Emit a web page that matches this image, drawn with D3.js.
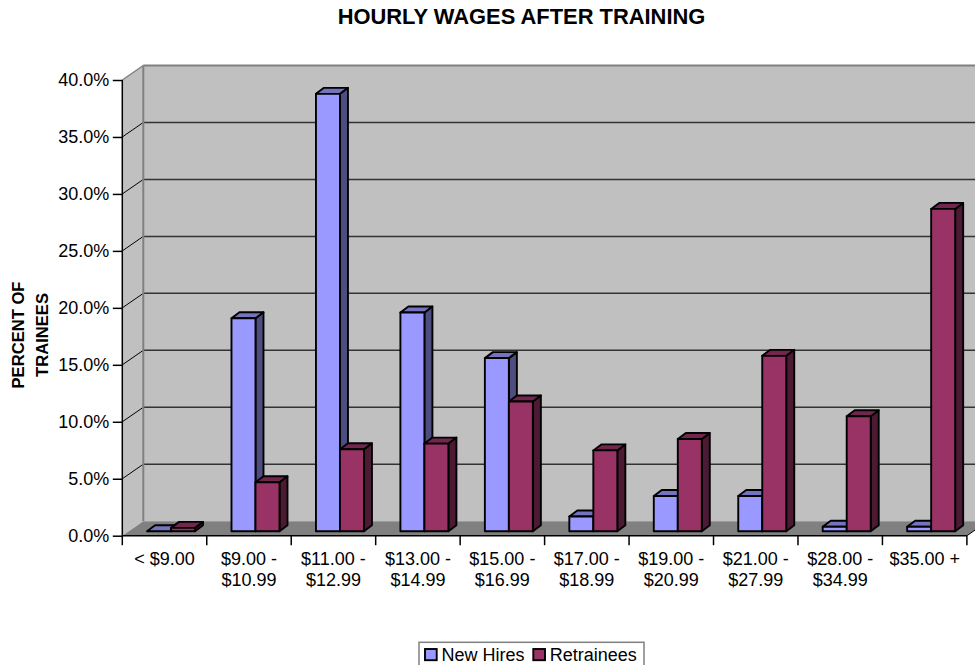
<!DOCTYPE html>
<html>
<head>
<meta charset="utf-8">
<script src="https://d3js.org/d3.v7.min.js"></script>
<style>
  html, body { margin: 0; padding: 0; background: #fff; }
  svg { display: block; }
  text { font-family: "Liberation Sans", Arial, sans-serif; fill: #000; }
</style>
</head>
<body>
<div id="chart"></div>
<script>
//// data
const categories = ["< $9.00", "$9.00 -|$10.99", "$11.00 -|$12.99", "$13.00 -|$14.99", "$15.00 -|$16.99",
  "$17.00 -|$18.99", "$19.00 -|$20.99", "$21.00 -|$27.99", "$28.00 -|$34.99", "$35.00 +"];
const newHires = [0.0, 18.7, 38.4, 19.2, 15.2, 1.3, 3.1, 3.1, 0.4, 0.4];
const retrainees = [0.3, 4.3, 7.2, 7.7, 11.4, 7.1, 8.1, 15.4, 10.1, 28.3];
const seriesNames = ["New Hires", "Retrainees"];
const yTicks = [0, 5, 10, 15, 20, 25, 30, 35, 40];

//// colours: front, top, side
const colors = [
  {front: "#9999ff", top: "#7373bf", side: "#4d4d80"},
  {front: "#993366", top: "#73264d", side: "#4d1a33"}
];

const width = 975, height = 665;
const wallDx = 21, wallDy = -14.5;    // depth of the whole box
const barOffX = 6.5, barOffY = -4.4;  // where bars sit inside the box
const barDx = 8, barDy = -6;          // depth of a bar

const svg = d3.select("#chart").append("svg")
  .attr("width", width)
  .attr("height", height);

const xScale = d3.scaleBand()
  .domain(d3.range(categories.length))
  .range([122.3, 966.9]);

const yScale = d3.scaleLinear()
  .domain([0, 40])
  .range([535.7, 80]);

const x0 = xScale.range()[0], x1 = xScale.range()[1];
const y0 = yScale(0), yTop = yScale(40);
const pts = a => a.map(p => p.join(",")).join(" ");

//// walls and floor
svg.append("polygon")
  .attr("points", pts([[x0 + wallDx, yTop + wallDy], [x1 + wallDx, yTop + wallDy], [x1 + wallDx, y0 + wallDy], [x0 + wallDx, y0 + wallDy]]))
  .attr("fill", "#c0c0c0");
svg.append("polygon")
  .attr("points", pts([[x0, yTop], [x0 + wallDx, yTop + wallDy], [x0 + wallDx, y0 + wallDy], [x0, y0]]))
  .attr("fill", "#c0c0c0");
svg.append("polygon")
  .attr("points", pts([[x0, y0], [x0 + wallDx, y0 + wallDy], [x1 + wallDx, y0 + wallDy], [x1, y0]]))
  .attr("fill", "#808080");

//// grid
yTicks.slice(1).forEach(t => {
  const y = yScale(t);
  const top = t === 40;
  svg.append("line")
    .attr("x1", x0 + wallDx).attr("x2", x1 + wallDx)
    .attr("y1", y + wallDy).attr("y2", y + wallDy)
    .attr("stroke", top ? "#808080" : "#333")
    .attr("stroke-width", top ? 2 : 1.5);
  svg.append("line")
    .attr("x1", x0).attr("x2", x0 + wallDx)
    .attr("y1", y).attr("y2", y + wallDy)
    .attr("stroke", top ? "#808080" : "#000")
    .attr("stroke-width", top ? 1.5 : 1);
});
svg.append("line")
  .attr("x1", x0 + wallDx).attr("x2", x0 + wallDx)
  .attr("y1", yTop + wallDy).attr("y2", y0 + wallDy)
  .attr("stroke", "#808080").attr("stroke-width", 2);

//// floor edges
svg.append("line")
  .attr("x1", x0).attr("x2", x1).attr("y1", y0).attr("y2", y0)
  .attr("stroke", "#000").attr("stroke-width", 1.5);
svg.append("line")
  .attr("x1", x1).attr("x2", x1 + wallDx).attr("y1", y0).attr("y2", y0 + wallDy)
  .attr("stroke", "#000").attr("stroke-width", 1);

//// bars
const barW = 24;
function drawBar(i, s, v) {
  const c = colors[s];
  const left = xScale(i) + xScale.bandwidth() / 2 + barOffX - barW + s * barW;
  const right = left + barW;
  const bottom = y0 + barOffY;
  const top = yScale(v) + barOffY;
  const g = svg.append("g")
    .attr("stroke", "#000")
    .attr("stroke-width", 1.9)
    .attr("stroke-linejoin", "round");
  g.append("polygon")
    .attr("points", pts([[right, top], [right + barDx, top + barDy], [right + barDx, bottom + barDy], [right, bottom]]))
    .attr("fill", c.side);
  g.append("polygon")
    .attr("points", pts([[left, top], [left + barDx, top + barDy], [right + barDx, top + barDy], [right, top]]))
    .attr("fill", c.top);
  g.append("rect")
    .attr("x", left).attr("y", top)
    .attr("width", barW).attr("height", bottom - top)
    .attr("fill", c.front);
}
categories.forEach((_, i) => {
  drawBar(i, 0, newHires[i]);
  drawBar(i, 1, retrainees[i]);
});

//// y axis
svg.append("g")
  .attr("transform", "translate(" + x0 + ",0)")
  .call(d3.axisLeft(yScale).tickValues(yTicks).tickSize(9.5).tickPadding(3.5)
    .tickFormat(d => d.toFixed(1) + "%"))
  .call(g => g.selectAll("text").style("font-size", "18px").style("font-family", "'Liberation Sans', Arial, sans-serif"))
  .call(g => g.selectAll("line").attr("stroke-width", 1.5))
  .call(g => g.select(".domain").attr("stroke-width", 1.5).attr("d", "M0," + yTop + "V" + y0));

//// x axis
svg.selectAll(".xtick")
  .data(d3.range(categories.length + 1))
  .enter().append("line")
  .attr("class", "xtick")
  .attr("x1", i => x0 + i * xScale.step())
  .attr("x2", i => x0 + i * xScale.step())
  .attr("y1", y0).attr("y2", y0 + 9.5)
  .attr("stroke", "#000").attr("stroke-width", 1.5);

categories.forEach((c, i) => {
  const t = svg.append("text")
    .attr("text-anchor", "middle")
    .style("font-size", "18px");
  c.split("|").forEach((part, k) => {
    t.append("tspan")
      .attr("x", xScale(i) + xScale.bandwidth() / 2)
      .attr("y", 565 + k * 21)
      .text(part);
  });
});

//// title
svg.append("text")
  .attr("x", 521.5).attr("y", 24)
  .attr("text-anchor", "middle")
  .style("font-size", "21.9px").style("font-weight", "bold")
  .text("HOURLY WAGES AFTER TRAINING");

//// y title
const yt = svg.append("text")
  .attr("transform", "translate(24,335) rotate(-90)")
  .attr("text-anchor", "middle")
  .style("font-size", "16.6px").style("font-weight", "bold");
["PERCENT OF", "TRAINEES"].forEach((s, k) => {
  yt.append("tspan").attr("x", 0).attr("y", k * 23.7).text(s);
});

//// legend
svg.append("rect")
  .attr("x", 419).attr("y", 642.3).attr("width", 225).attr("height", 30)
  .attr("fill", "#fff").attr("stroke", "#808080").attr("stroke-width", 1.5);
[425, 533.3].forEach((lx, i) => {
  svg.append("rect")
    .attr("x", lx).attr("y", 649).attr("width", 11.7).attr("height", 11.2)
    .attr("fill", colors[i].front).attr("stroke", "#000").attr("stroke-width", 1.9);
  svg.append("text")
    .attr("x", lx + 16.5).attr("y", 660.7)
    .style("font-size", "18px")
    .text(seriesNames[i]);
});
</script>
</body>
</html>
